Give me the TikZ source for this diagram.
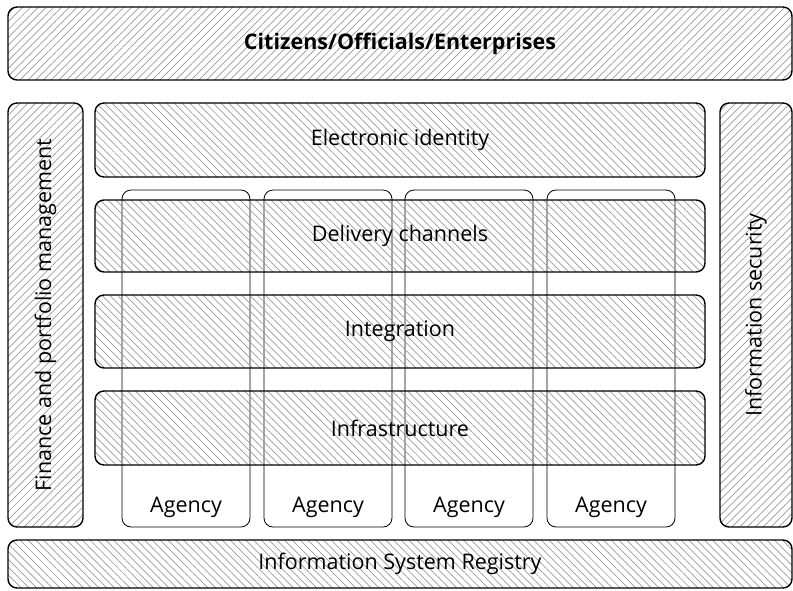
\documentclass[tikz,border=0pt]{standalone}
\usepackage{fontspec}
\setmainfont{Open Sans}
\usetikzlibrary{patterns.meta}

\begin{document}
\begin{tikzpicture}[x=1pt,y=-1pt]
\tikzstyle{every node}+=[inner sep=0pt, font=\fontsize{21.5}{24}\selectfont]
\tikzstyle{band}=[draw=black, line width=1.4pt, rounded corners=9pt]
\tikzstyle{hatchne}=[band, pattern={Lines[angle=45,distance=5.5pt,line width=0.7pt]}, pattern color=black!40]
\tikzstyle{hatchnw}=[band, pattern={Lines[angle=-45,distance=5.5pt,line width=0.7pt]}, pattern color=black!40]
\tikzstyle{agencybox}=[draw=black, line width=0.8pt, fill=white, rounded corners=9pt, minimum width=128pt, minimum height=337pt]
\useasboundingbox (0,0) rectangle (793,590);
% agency columns behind the layers
\foreach \i/\x in {1/186, 2/328, 3/469, 4/611}
  \node [agencybox] (agency\i) at (\x,358.5) {};
\foreach \i in {1,2,3,4}
  \node at ([yshift=20pt]agency\i.south) {Agency};
% outer frame
\node [hatchne, minimum width=784pt, minimum height=73pt] (citizens) at (400,43.5) {\bfseries Citizens/Officials/Enterprises};
\node [hatchne, minimum width=75pt, minimum height=424pt] (finance) at (45.5,315) {};
\node [rotate=90] at (finance) {Finance and portfolio management};
\node [hatchne, minimum width=72pt, minimum height=424pt] (security) at (756,315) {};
\node [rotate=90] at (security) {Information security};
\node [hatchnw, minimum width=784pt, minimum height=48pt] (registry) at (400,564) {Information System Registry};
% layers
\node [hatchnw, minimum width=610pt, minimum height=74pt] (identity) at (400,140) {Electronic identity};
\node [hatchnw, minimum width=610pt, minimum height=72pt] (delivery) at (400,236) {Delivery channels};
\node [hatchnw, minimum width=610pt, minimum height=73pt] (integration) at (400,331.5) {Integration};
\node [hatchnw, minimum width=610pt, minimum height=74pt] (infrastructure) at (400,428) {Infrastructure};
\end{tikzpicture}
\end{document}
